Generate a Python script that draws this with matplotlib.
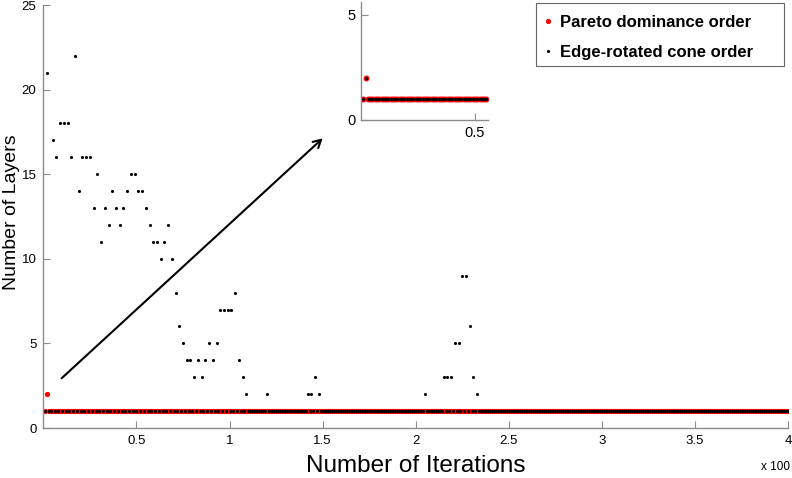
import numpy as np
import matplotlib
matplotlib.use('Agg')
import matplotlib.pyplot as plt
from matplotlib.patches import Rectangle

plt.rcParams['font.family'] = ['Liberation Sans', 'DejaVu Sans']

# iterations 1..400, shown on the axis in units of 100
iterations = np.arange(1, 401)

# Pareto dominance order: one layer everywhere except an early spike
pareto = np.ones(400)
pareto_spikes = {2: 2}
for it, v in pareto_spikes.items():
    pareto[it - 1] = v

# Edge-rotated cone order: values, 1 elsewhere
edge = np.ones(400)
edge_spikes = {
    2: 21, 5: 17, 7: 16, 9: 18, 11: 18, 13: 18, 15: 16, 17: 22, 19: 14,
    21: 16, 23: 16, 25: 16, 27: 13, 29: 15, 31: 11, 33: 13, 35: 12, 37: 14,
    39: 13, 41: 12, 43: 13, 45: 14, 47: 15, 49: 15, 51: 14, 53: 14, 55: 13,
    57: 12, 59: 11, 61: 11, 63: 10, 65: 11, 67: 12, 69: 10, 71: 8, 73: 6,
    75: 5, 77: 4, 79: 4, 81: 3, 83: 4, 85: 3, 87: 4, 89: 5, 91: 4, 93: 5,
    95: 7, 97: 7, 99: 7, 101: 7, 103: 8, 105: 4, 107: 3, 109: 2,
    120: 2, 142: 2, 144: 2, 146: 3, 148: 2,
    205: 2, 215: 3, 217: 3, 219: 3, 221: 5, 223: 5, 225: 9, 227: 9,
    229: 6, 231: 3, 233: 2,
}
for it, v in edge_spikes.items():
    edge[it - 1] = v

x = iterations / 100.0
inset_n = 55

spine_col = '#8c8c8c'


def style_axes(a):
    for s in ['top', 'right']:
        a.spines[s].set_visible(False)
    for s in ['left', 'bottom']:
        a.spines[s].set_color(spine_col)
        a.spines[s].set_linewidth(1.0)
    a.tick_params(direction='in', length=5, width=0.8, color=spine_col,
                  labelsize=9.5, labelcolor='black', pad=5)


fig = plt.figure(figsize=(7.92, 4.78), dpi=100)
ax = fig.add_axes([0.0548, 0.1046, 0.9402, 0.8849])

ax.plot(x, pareto, '.', color='red', markersize=5.5, label='Pareto dominance order')
ax.plot(x, edge, '.', color='black', markersize=2.5, label='Edge-rotated cone order')

ax.set_xlim(0, 4)
ax.set_ylim(0, 25)
ax.set_xticks([0.5, 1, 1.5, 2, 2.5, 3, 3.5, 4])
ax.set_xticklabels(['0.5', '1', '1.5', '2', '2.5', '3', '3.5', '4'])
ax.set_yticks([0, 5, 10, 15, 20, 25])
style_axes(ax)

ax.set_xlabel('Number of Iterations', fontsize=17.5, labelpad=6)
ax.set_ylabel('Number of Layers', fontsize=14, va='center')
ax.yaxis.set_label_coords(-0.043, 0.51)
fig.text(0.998, 0.022, 'x 100', fontsize=8.5, ha='right', va='center')

ax.annotate('', xy=(1.5, 17.12), xytext=(0.098, 2.94),
            arrowprops=dict(arrowstyle='->,head_length=0.55,head_width=0.3',
                            color='black', lw=1.5, shrinkA=0, shrinkB=0))

# legend entries without frame, frame drawn as a wider box like the original
leg = ax.legend(loc='upper left', bbox_to_anchor=(543 / 792, 1 - 15 / 478),
                bbox_transform=fig.transFigure,
                borderaxespad=0, borderpad=0, frameon=False,
                prop={'weight': 'bold', 'size': 12},
                handlelength=0.6, handletextpad=0.4, labelspacing=0.92)
fig.patches.append(Rectangle((536 / 792, 1 - 66 / 478), 248 / 792, 63 / 478,
                             transform=fig.transFigure, fill=False,
                             edgecolor='#666666', linewidth=0.8))

# inset zooming on the first iterations
ins = fig.add_axes([0.4558, 0.749, 0.1604, 0.247])
ins.plot(x[:inset_n], pareto[:inset_n], '.', color='red', markersize=6.5)
ins.plot(x[:inset_n], pareto[:inset_n], '.', color='black', markersize=2.5)
ins.set_xlim(0, 0.557)
ins.set_ylim(0, 5.62)
ins.set_xticks([0.5])
ins.set_xticklabels(['0.5'])
ins.set_yticks([0, 5])
style_axes(ins)
ins.tick_params(labelsize=10.5, pad=4)
ins.patch.set_alpha(0)

fig.savefig('out.png', dpi=100)
